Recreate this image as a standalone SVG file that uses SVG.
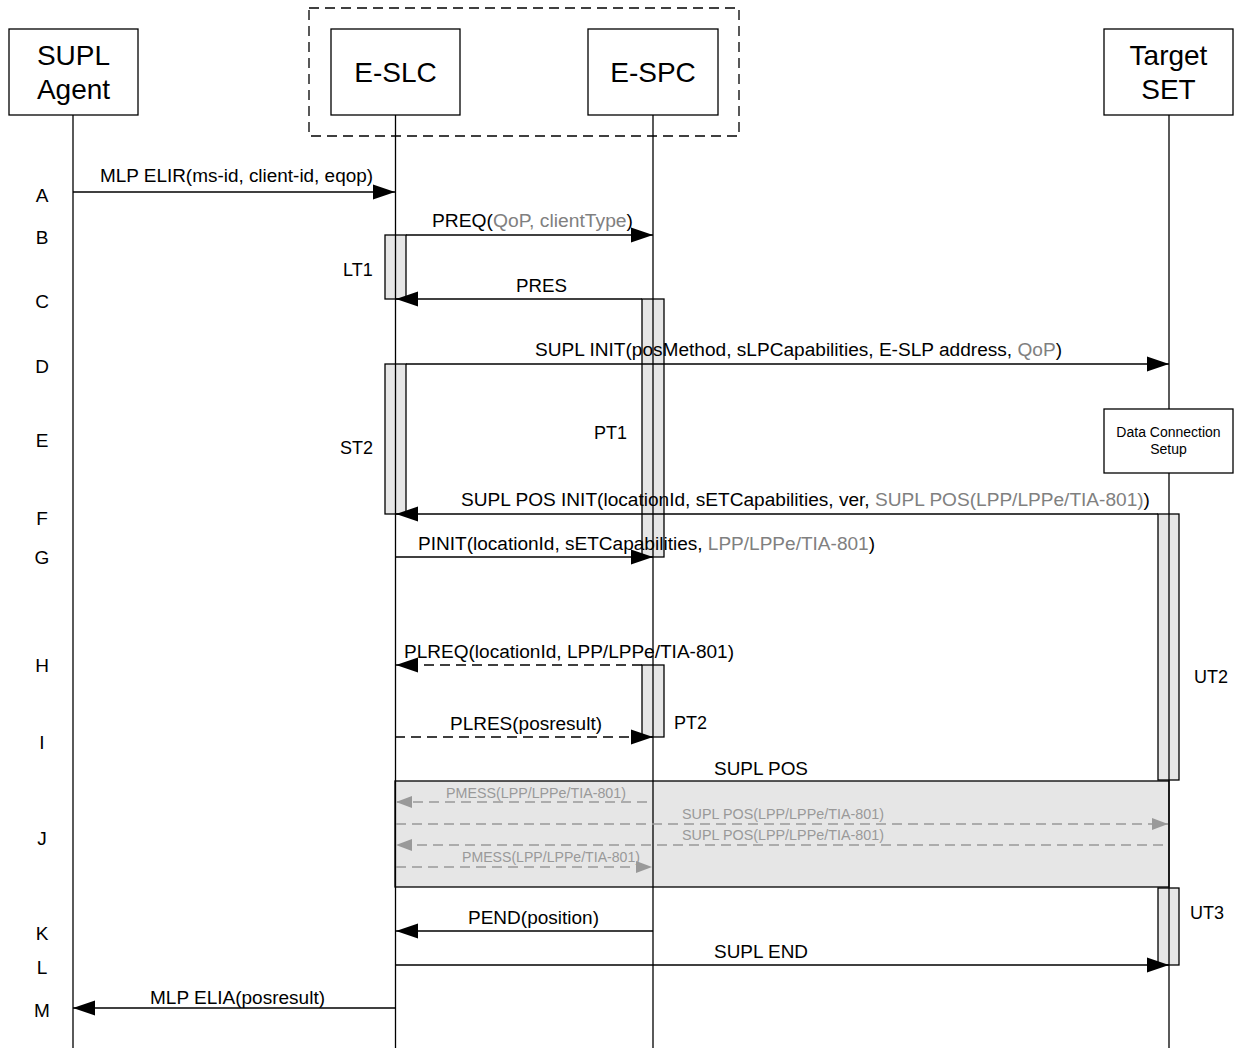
<svg xmlns="http://www.w3.org/2000/svg" width="1241" height="1048" viewBox="0 0 1241 1048">
<style>
.box{fill:#fff;stroke:#000;stroke-width:1.3}
.title{font-family:"Liberation Sans",Arial,sans-serif;font-size:28px;fill:#000;text-anchor:middle}
.life{stroke:#000;stroke-width:1.3;fill:none}
.bar{fill:#e6e6e6;stroke:#000;stroke-width:1.3}
.msg{stroke:#000;stroke-width:1.3;fill:none}
.dash{stroke-dasharray:10,6}
.gmsg{stroke:#999;stroke-width:1.3;fill:none;stroke-dasharray:10,6}
.lbl{font-family:"Liberation Sans",Arial,sans-serif;font-size:18px;fill:#000}
.g{fill:#808080}
.small{font-family:"Liberation Sans",Arial,sans-serif;font-size:14px;fill:#999}
.dc{font-family:"Liberation Sans",Arial,sans-serif;font-size:14px;fill:#000;text-anchor:middle}
.row{font-family:"Liberation Sans",Arial,sans-serif;font-size:19px;fill:#000;text-anchor:middle}
</style>
<defs>
<marker id="ah" markerUnits="userSpaceOnUse" markerWidth="22" markerHeight="16" refX="22" refY="8" orient="auto"><path d="M0,0.5 L22,8 L0,15.5 z" fill="#000"/></marker>
<marker id="ahg" markerUnits="userSpaceOnUse" markerWidth="16" markerHeight="12" refX="16" refY="6" orient="auto"><path d="M0,0 L16,6 L0,12 z" fill="#999"/></marker>
</defs>

<rect x="309" y="8" width="430" height="128" fill="none" stroke="#000" stroke-width="1.3" stroke-dasharray="10,6"/>

<g id="J-box"><rect x="395" y="781" width="774" height="106" fill="#e6e6e6" stroke="#000" stroke-width="1.3"/></g>

<g id="bars">
<rect class="bar" x="385" y="235" width="21" height="64"/>
<rect class="bar" x="642" y="299" width="22" height="258"/>
<rect class="bar" x="385" y="364" width="21" height="150"/>
<rect class="bar" x="1158" y="514" width="21" height="266"/>
<rect class="bar" x="642" y="665" width="22" height="72"/>
<rect class="bar" x="1158" y="888" width="21" height="77"/>
</g>

<g id="lifelines">
<line class="life" x1="73" y1="115" x2="73" y2="1048"/>
<line class="life" x1="395.5" y1="115" x2="395.5" y2="1048"/>
<line class="life" x1="653" y1="115" x2="653" y2="1048"/>
<line class="life" x1="1169" y1="115" x2="1169" y2="409"/>
<line class="life" x1="1169" y1="473" x2="1169" y2="1048"/>
</g>

<g id="supl-agent"><rect class="box" x="9" y="29" width="129" height="86"/><text class="title" x="73.5" y="65">SUPL</text><text class="title" x="73.5" y="99">Agent</text></g>
<g id="e-slc"><rect class="box" x="331" y="29" width="129" height="86"/><text class="title" x="395.5" y="82">E-SLC</text></g>
<g id="e-spc"><rect class="box" x="588" y="29" width="130" height="86"/><text class="title" x="653" y="82">E-SPC</text></g>
<g id="target-set"><rect class="box" x="1104" y="29" width="129" height="86"/><text class="title" x="1168.5" y="65">Target</text><text class="title" x="1168.5" y="99">SET</text></g>
<g id="data-conn"><rect class="box" x="1104" y="409" width="129" height="64"/><text class="dc" x="1168.5" y="437">Data Connection</text><text class="dc" x="1168.5" y="454">Setup</text></g>

<g id="connectors">
<line class="msg" x1="73" y1="192" x2="395" y2="192" marker-end="url(#ah)"/>
<line class="msg" x1="406" y1="235" x2="653" y2="235" marker-end="url(#ah)"/>
<line class="msg" x1="642" y1="299" x2="396" y2="299" marker-end="url(#ah)"/>
<line class="msg" x1="406" y1="364" x2="1169" y2="364" marker-end="url(#ah)"/>
<line class="msg" x1="1158" y1="514" x2="396" y2="514" marker-end="url(#ah)"/>
<line class="msg" x1="395" y1="557" x2="653" y2="557" marker-end="url(#ah)"/>
<line class="msg dash" x1="642" y1="665" x2="396" y2="665" marker-end="url(#ah)"/>
<line class="msg dash" x1="395" y1="737" x2="653" y2="737" marker-end="url(#ah)"/>
<line class="gmsg" x1="647" y1="802" x2="396" y2="802" marker-end="url(#ahg)"/>
<line class="gmsg" x1="396" y1="824" x2="1168" y2="824" marker-end="url(#ahg)"/>
<line class="gmsg" x1="1163" y1="845" x2="396" y2="845" marker-end="url(#ahg)"/>
<line class="gmsg" x1="396" y1="867" x2="652" y2="867" marker-end="url(#ahg)"/>
<line class="msg" x1="653" y1="931" x2="396" y2="931" marker-end="url(#ah)"/>
<line class="msg" x1="395" y1="965" x2="1169" y2="965" marker-end="url(#ah)"/>
<line class="msg" x1="395" y1="1008" x2="73" y2="1008" marker-end="url(#ah)"/>
</g>

<g id="labels">
<text class="lbl" x="100" y="182" textLength="273" lengthAdjust="spacingAndGlyphs">MLP ELIR(ms-id, client-id, eqop)</text>
<text class="lbl" x="432" y="227" textLength="201" lengthAdjust="spacingAndGlyphs">PREQ(<tspan class="g">QoP, clientType</tspan>)</text>
<text class="lbl" x="516" y="292" textLength="51" lengthAdjust="spacingAndGlyphs">PRES</text>
<text class="lbl" x="535" y="356" textLength="527" lengthAdjust="spacingAndGlyphs">SUPL INIT(posMethod, sLPCapabilities, E-SLP address, <tspan class="g">QoP</tspan>)</text>
<text class="lbl" x="461" y="506" textLength="689" lengthAdjust="spacingAndGlyphs">SUPL POS INIT(locationId, sETCapabilities, ver, <tspan class="g">SUPL POS(LPP/LPPe/TIA-801)</tspan>)</text>
<text class="lbl" x="418" y="550" textLength="457" lengthAdjust="spacingAndGlyphs">PINIT(locationId, sETCapabilities, <tspan class="g">LPP/LPPe/TIA-801</tspan>)</text>
<text class="lbl" x="404" y="658" textLength="330" lengthAdjust="spacingAndGlyphs">PLREQ(locationId, LPP/LPPe/TIA-801)</text>
<text class="lbl" x="450" y="730" textLength="152" lengthAdjust="spacingAndGlyphs">PLRES(posresult)</text>
<text class="lbl" x="714" y="775" textLength="94" lengthAdjust="spacingAndGlyphs">SUPL POS</text>
<text class="small" x="446" y="798" textLength="180" lengthAdjust="spacingAndGlyphs">PMESS(LPP/LPPe/TIA-801)</text>
<text class="small" x="682" y="819" textLength="202" lengthAdjust="spacingAndGlyphs">SUPL POS(LPP/LPPe/TIA-801)</text>
<text class="small" x="682" y="840" textLength="202" lengthAdjust="spacingAndGlyphs">SUPL POS(LPP/LPPe/TIA-801)</text>
<text class="small" x="462" y="862" textLength="178" lengthAdjust="spacingAndGlyphs">PMESS(LPP/LPPe/TIA-801)</text>
<text class="lbl" x="468" y="924" textLength="131" lengthAdjust="spacingAndGlyphs">PEND(position)</text>
<text class="lbl" x="714" y="958" textLength="94" lengthAdjust="spacingAndGlyphs">SUPL END</text>
<text class="lbl" x="150" y="1004" textLength="175" lengthAdjust="spacingAndGlyphs">MLP ELIA(posresult)</text>
<text class="lbl" x="343" y="276">LT1</text>
<text class="lbl" x="340" y="454">ST2</text>
<text class="lbl" x="594" y="439">PT1</text>
<text class="lbl" x="674" y="729">PT2</text>
<text class="lbl" x="1194" y="683">UT2</text>
<text class="lbl" x="1190" y="919">UT3</text>
</g>

<g id="rows">
<text class="row" x="42" y="202">A</text>
<text class="row" x="42" y="244">B</text>
<text class="row" x="42" y="308">C</text>
<text class="row" x="42" y="373">D</text>
<text class="row" x="42" y="447">E</text>
<text class="row" x="42" y="525">F</text>
<text class="row" x="42" y="564">G</text>
<text class="row" x="42" y="672">H</text>
<text class="row" x="42" y="749">I</text>
<text class="row" x="42" y="845">J</text>
<text class="row" x="42" y="940">K</text>
<text class="row" x="42" y="974">L</text>
<text class="row" x="42" y="1017">M</text>
</g>
</svg>
